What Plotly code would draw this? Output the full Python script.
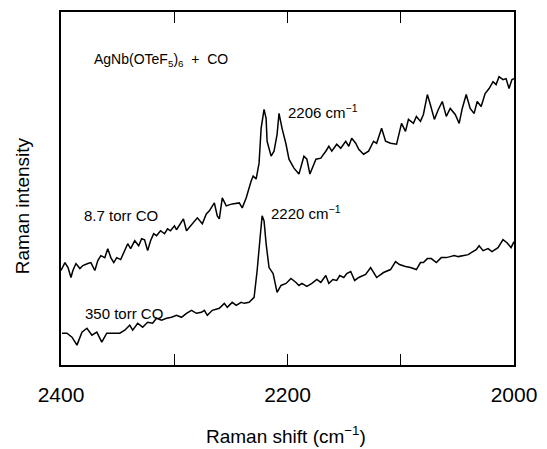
import plotly.graph_objects as go

# 8.7 torr CO spectrum (Raman shift cm^-1, intensity arb. units)
shift_87 = [2400.0, 2396.5, 2393.8, 2391.2, 2389.5, 2386.8, 2383.3, 2380.7, 2376.3, 2373.6,
            2370.1, 2367.5, 2364.8, 2361.3, 2358.7, 2356.0, 2353.4, 2350.8, 2347.3, 2343.7,
            2341.1, 2338.5, 2334.9, 2331.4, 2328.8, 2326.2, 2323.5, 2320.9, 2318.2, 2315.6,
            2312.1, 2308.6, 2305.9, 2303.3, 2299.8, 2298.0, 2294.5, 2291.9, 2289.2, 2284.0,
            2279.6, 2275.2, 2271.7, 2269.0, 2264.6, 2262.0, 2260.2, 2257.6, 2254.1, 2248.8,
            2242.6, 2240.0, 2236.5, 2232.1, 2230.3, 2227.7, 2225.1, 2223.3, 2221.5, 2220.7,
            2218.9, 2218.0, 2214.5, 2211.9, 2209.2, 2207.5, 2204.8, 2201.3, 2198.7, 2194.3,
            2189.9, 2185.5, 2182.9, 2180.2, 2174.9, 2170.6, 2166.2, 2163.5, 2160.9, 2156.5,
            2153.0, 2148.6, 2145.9, 2143.3, 2139.8, 2137.1, 2132.8, 2128.4, 2124.0, 2121.3,
            2116.9, 2113.4, 2109.0, 2103.7, 2099.3, 2095.8, 2093.2, 2088.8, 2086.2, 2082.6,
            2080.0, 2076.5, 2073.9, 2070.3, 2066.8, 2063.3, 2059.8, 2056.3, 2051.9, 2048.4,
            2045.7, 2042.2, 2038.7, 2035.2, 2032.5, 2029.0, 2025.5, 2022.0, 2018.5, 2015.8,
            2013.2, 2009.7, 2007.0, 2004.4, 2001.8, 2000.0]
int_87 = [95, 103, 98, 88, 95, 102, 97, 100, 102, 103,
          95, 105, 110, 108, 117, 108, 103, 108, 106, 115,
          122, 117, 125, 120, 127, 126, 115, 125, 132, 130,
          135, 132, 137, 135, 140, 136, 142, 147, 135, 142,
          148, 142, 152, 155, 163, 150, 147, 168, 160, 162,
          163, 158, 168, 185, 190, 187, 203, 238, 255, 257,
          248, 225, 210, 215, 232, 253, 238, 222, 207, 198,
          192, 210, 207, 192, 207, 208, 215, 220, 215, 222,
          218, 225, 220, 228, 223, 217, 212, 215, 225, 223,
          238, 225, 223, 222, 243, 235, 247, 243, 250, 245,
          252, 272, 262, 247, 257, 265, 250, 258, 252, 243,
          258, 272, 258, 253, 265, 260, 273, 278, 285, 282,
          290, 287, 288, 278, 287, 288]

# 350 torr CO spectrum
shift_350 = [2399.1, 2394.7, 2390.3, 2385.9, 2381.5, 2377.1, 2372.7, 2368.4, 2364.0, 2359.6,
             2355.2, 2348.1, 2343.7, 2339.3, 2336.7, 2332.3, 2327.9, 2323.5, 2319.1, 2315.6,
             2311.2, 2306.8, 2302.4, 2298.0, 2293.6, 2289.2, 2284.8, 2280.4, 2276.0, 2273.4,
             2270.8, 2266.4, 2260.2, 2255.8, 2253.2, 2248.8, 2245.3, 2240.9, 2238.2, 2233.9,
             2229.5, 2226.8, 2224.2, 2222.4, 2220.7, 2218.9, 2216.3, 2212.7, 2209.2, 2205.7,
             2201.3, 2196.9, 2192.5, 2189.9, 2187.3, 2182.9, 2178.5, 2174.1, 2170.6, 2166.2,
             2163.5, 2160.0, 2156.5, 2153.9, 2150.3, 2147.7, 2144.2, 2140.7, 2137.1, 2131.0,
             2126.6, 2121.3, 2115.2, 2109.0, 2104.6, 2101.1, 2095.8, 2091.4, 2086.2, 2082.6,
             2080.0, 2076.5, 2073.0, 2068.6, 2064.2, 2059.8, 2056.3, 2052.8, 2049.2, 2044.8,
             2040.4, 2037.8, 2033.4, 2030.8, 2027.3, 2022.9, 2019.4, 2014.1, 2009.7, 2006.2,
             2002.6, 2000.0]
int_350 = [32, 32, 28, 20, 33, 37, 30, 33, 23, 32,
           32, 32, 35, 40, 35, 42, 38, 43, 42, 47,
           45, 47, 48, 50, 48, 52, 55, 52, 53, 55,
           50, 55, 57, 62, 58, 63, 60, 63, 62, 63,
           68, 95, 128, 150, 145, 122, 98, 92, 73, 80,
           82, 87, 83, 80, 82, 79, 82, 86, 83, 90,
           82, 86, 85, 90, 88, 92, 94, 85, 88, 91,
           98, 88, 93, 96, 104, 101, 99, 98, 96, 103,
           103, 107, 107, 103, 108, 108, 109, 110, 109, 110,
           111, 113, 116, 120, 115, 117, 114, 118, 126, 123,
           118, 124]

label_ticks = [2400, 2200, 2000]

FONT = "Liberation Sans, Arial, Helvetica, sans-serif"

fig = go.Figure()
for xs, ys in [(shift_87, int_87), (shift_350, int_350)]:
    fig.add_trace(go.Scatter(x=xs, y=ys, mode="lines",
                             line=dict(color="black", width=1.5),
                             showlegend=False, hoverinfo="skip"))

fig.update_layout(
    width=547, height=449,
    margin=dict(l=61, r=31, t=10, b=84),
    paper_bgcolor="white", plot_bgcolor="white",
    font=dict(family=FONT, color="black"),
    xaxis=dict(range=[2400, 2000], tickmode="array", tickvals=label_ticks,
               ticks="inside", ticklen=11, tickwidth=1.2, tickcolor="black",
               ticklabelstandoff=10,
               minor=dict(tickmode="linear", tick0=2000, dtick=100, ticks="inside",
                          ticklen=11, tickwidth=1.2, tickcolor="black", showgrid=False),
               showline=True, linecolor="black", linewidth=1.5, mirror="ticks",
               showgrid=False, zeroline=False,
               tickfont=dict(size=21, family=FONT, color="black")),
    yaxis=dict(range=[0, 355], showticklabels=False, ticks="",
               showline=True, linecolor="black", linewidth=1.5, mirror=True,
               showgrid=False, zeroline=False),
)

ann = [
    dict(text="AgNb(OTeF<sub>5</sub>)<sub>6</sub>  +  CO", x=0.068, y=0.865, size=14),
    dict(text="2206 cm<sup>−1</sup>", x=0.497, y=0.718, size=15),
    dict(text="2220 cm<sup>−1</sup>", x=0.459, y=0.431, size=15),
    dict(text="8.7 torr CO", x=0.046, y=0.423, size=15),
    dict(text="350 torr CO", x=0.048, y=0.146, size=15),
]
for a in ann:
    fig.add_annotation(text=a["text"], x=a["x"], y=a["y"], xref="paper", yref="paper",
                       xanchor="left", yanchor="middle", showarrow=False,
                       font=dict(size=a["size"], family=FONT, color="black"))

fig.add_annotation(text="Raman intensity", x=-0.086, y=0.45, xref="paper", yref="paper",
                   textangle=-90, showarrow=False, xanchor="center", yanchor="middle",
                   font=dict(size=19, family=FONT, color="black"))
fig.add_annotation(text="Raman shift (cm<sup>−1</sup>)", x=0.496, y=-0.197,
                   xref="paper", yref="paper", showarrow=False,
                   xanchor="center", yanchor="middle",
                   font=dict(size=19, family=FONT, color="black"))

fig.write_html("out.html")
